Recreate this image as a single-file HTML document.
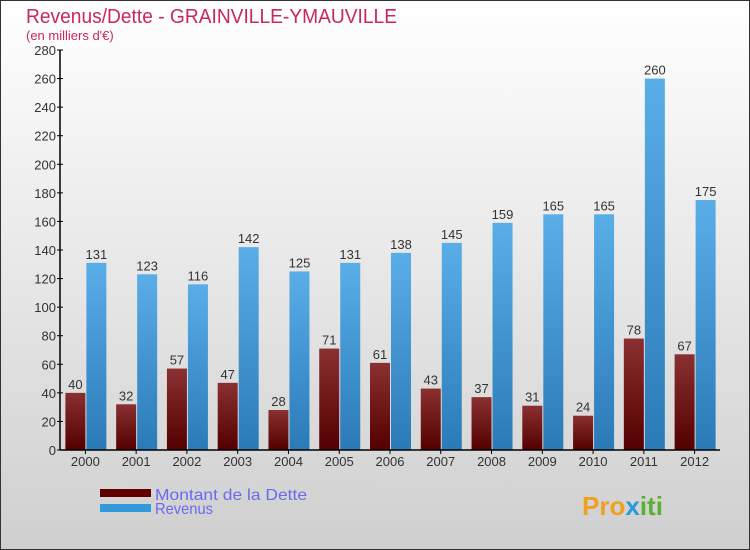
<!DOCTYPE html>
<html><head><meta charset="utf-8"><style>
body{margin:0}
svg{display:block;font-family:"Liberation Sans",sans-serif}
</style></head><body>
<svg width="750" height="550" viewBox="0 0 750 550">
<defs>
<linearGradient id="bg" x1="0" y1="0" x2="0" y2="1"><stop offset="0" stop-color="#ffffff"/><stop offset="1" stop-color="#cfcfcf"/></linearGradient>
<linearGradient id="gd" x1="0" y1="0" x2="0" y2="1"><stop offset="0" stop-color="#8a3030"/><stop offset="1" stop-color="#540000"/></linearGradient>
<linearGradient id="gr" x1="0" y1="0" x2="0" y2="1"><stop offset="0" stop-color="#5aaee8"/><stop offset="1" stop-color="#2a7ab8"/></linearGradient>
</defs>
<rect x="0.5" y="0.5" width="749" height="549" fill="url(#bg)" stroke="#333"/>
<text x="26" y="23" font-size="20" fill="#c8285a" textLength="371" lengthAdjust="spacingAndGlyphs">Revenus/Dette - GRAINVILLE-YMAUVILLE</text>
<text x="26" y="40" font-size="13" fill="#c8285a">(en milliers d'€)</text>
<g id="plot"></g>
<rect x="100" y="489" width="51" height="8" fill="#600000"/>
<text x="155" y="500" font-size="16" fill="#6a6aee" textLength="152" lengthAdjust="spacingAndGlyphs">Montant de la Dette</text>
<rect x="100" y="504" width="51" height="8" fill="#3399dd"/>
<text x="155" y="514" font-size="16" fill="#6a6aee" textLength="58" lengthAdjust="spacingAndGlyphs">Revenus</text>
<text x="582" y="515" font-size="26" font-weight="bold" fill="#f0a020">Pro<tspan fill="#2a9ad8">x</tspan><tspan fill="#5ab030">iti</tspan></text>
</svg>
<script>
const years=["2000","2001","2002","2003","2004","2005","2006","2007","2008","2009","2010","2011","2012"];
const dette=[40,32,57,47,28,71,61,43,37,31,24,78,67];
const revenus=[131,123,116,142,125,131,138,145,159,165,165,260,175];
const yTicks=[0,20,40,60,80,100,120,140,160,180,200,220,240,260,280];
const NS="http://www.w3.org/2000/svg";
const g=document.getElementById('plot');
const x0=60,x1=720,yB=450,yT=50,yMax=280;
const y=v=>yB-(v/yMax)*(yB-yT);
const gw=(x1-x0)/years.length;
const cx=i=>x0+gw*(i+0.5);
function mk(t,a){const e=document.createElementNS(NS,t);for(const k in a)e.setAttribute(k,a[k]);g.appendChild(e);return e;}
yTicks.forEach(v=>{
  const l=mk('line',{x1:x0-3,x2:x0+3,y1:y(v),y2:y(v),stroke:'#000'});
  
  
  const t=mk('text',{x:x0-4,y:y(v)+5,'font-size':13,fill:'#333','text-anchor':'end'});
  t.textContent=v;
  
  
});
years.forEach((yr,i)=>{
  const c=cx(i);
  const bd=mk('rect',{x:c-20,y:y(dette[i]),width:20,height:yB-y(dette[i]),fill:'url(#gd)'});
  
  
  const br=mk('rect',{x:c+1,y:y(revenus[i]),width:20,height:yB-y(revenus[i]),fill:'url(#gr)'});
  
  
  const td=mk('text',{x:c-10,y:y(dette[i])-4,'font-size':13,fill:'#333','text-anchor':'middle'});
  td.textContent=dette[i];
  
  
  const tr=mk('text',{x:c+11,y:y(revenus[i])-4,'font-size':13,fill:'#333','text-anchor':'middle'});
  tr.textContent=revenus[i];
  
  
  const tk=mk('line',{x1:c,x2:c,y1:yB,y2:yB+4,stroke:'#000'});
  
  
  const xl=mk('text',{x:c,y:yB+16,'font-size':13,fill:'#333','text-anchor':'middle'});
  xl.textContent=yr;
  
  
});
const ya=mk('line',{x1:x0,x2:x0,y1:yT,y2:yB,stroke:'#000','stroke-width':1.5});


const xa=mk('line',{x1:x0,x2:x1,y1:yB,y2:yB,stroke:'#000','stroke-width':1.5});


</script>
</body></html>
